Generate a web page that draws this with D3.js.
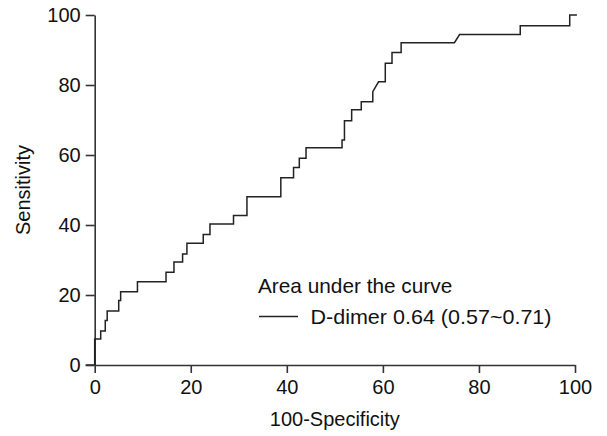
<!DOCTYPE html>
<html>
<head>
<meta charset="utf-8">
<script src="https://cdn.jsdelivr.net/npm/d3@7"></script>
<style>
  html, body { margin: 0; padding: 0; background: #fff; }
  svg { display: block; }
  text { font-family: "Liberation Sans", Arial, sans-serif; fill: #111; }
</style>
</head>
<body>
<svg id="chart" width="607" height="436"></svg>
<script>
// ROC curve vertices (100-Specificity, Sensitivity)
const specComplement = [0, 0, 1.25, 1.25, 2.2, 2.2, 2.6, 2.6, 5.0, 5.0, 5.4, 5.4, 8.9, 8.9, 14.85, 14.85,
  16.5, 16.5, 18.3, 18.3, 19.2, 19.2, 22.6, 22.6, 24.0, 24.0, 28.9, 28.9, 31.7, 31.7, 38.75, 38.75,
  41.4, 41.4, 42.6, 42.6, 44.0, 44.0, 51.5, 51.5, 52.0, 52.0, 53.5, 53.5, 55.5, 55.5, 57.9, 57.9,
  59.1, 60.5, 60.5, 61.9, 61.9, 63.8, 63.8, 74.9, 75.96, 88.6, 88.6, 98.9, 98.9, 100.4];
const sensitivity = [0, 7.4, 7.4, 9.7, 9.7, 12.7, 12.7, 15.4, 15.4, 18.4, 18.4, 20.9, 20.9, 23.8, 23.8, 26.5,
  26.5, 29.4, 29.4, 31.7, 31.7, 34.8, 34.8, 37.3, 37.3, 40.3, 40.3, 42.7, 42.7, 48.1, 48.1, 53.5,
  53.5, 56.4, 56.4, 59.1, 59.1, 62.1, 62.1, 64.3, 64.3, 69.8, 69.8, 72.9, 72.9, 75.2, 75.2, 78.1,
  80.9, 80.9, 86.2, 86.2, 89.3, 89.3, 92.1, 92.1, 94.4, 94.4, 96.9, 96.9, 100, 100];
const xTicks = [0, 20, 40, 60, 80, 100];
const yTicks = [0, 20, 40, 60, 80, 100];
const xTitle = "100-Specificity";
const yTitle = "Sensitivity";
const legendTitle = "Area under the curve";
const seriesLabel = "D-dimer 0.64 (0.57~0.71)";

const svg = d3.select("#chart");
const x = d3.scaleLinear().domain([0, 100]).range([94.7, 575]);
const y = d3.scaleLinear().domain([0, 100]).range([365, 15]);
const axisColor = "#333";
const fontSize = 20;

const gx = svg.append("g").attr("transform", `translate(0,${y(0)})`)
  .call(d3.axisBottom(x).tickValues(xTicks).tickSize(8).tickSizeOuter(0).tickPadding(7));
const gy = svg.append("g").attr("transform", `translate(${x(0)},0)`)
  .call(d3.axisLeft(y).tickValues(yTicks).tickSize(9).tickSizeOuter(0).tickPadding(5));
[gx, gy].forEach(g => {
  g.selectAll("path.domain").attr("stroke", axisColor).attr("stroke-width", 1.6);
  g.selectAll(".tick line").attr("stroke", axisColor).attr("stroke-width", 1.6);
  g.selectAll(".tick text").attr("font-size", fontSize).attr("font-family", "Liberation Sans, Arial, sans-serif").attr("fill", "#111");
});
svg.append("line").attr("x1", x(0) - 9).attr("x2", x(0)).attr("y1", y(0)).attr("y2", y(0))
  .attr("stroke", axisColor).attr("stroke-width", 1.6);

svg.append("text").attr("x", (x(0) + x(100)) / 2).attr("y", 426)
  .attr("text-anchor", "middle").attr("font-size", fontSize).text(xTitle);
svg.append("text").attr("transform", `translate(30,${(y(0) + y(100)) / 2}) rotate(-90)`)
  .attr("text-anchor", "middle").attr("font-size", fontSize).text(yTitle);

const pts = specComplement.map((v, i) => [v, sensitivity[i]]);
svg.append("path").datum(pts)
  .attr("d", d3.line().x(d => x(d[0])).y(d => y(d[1])))
  .attr("fill", "none").attr("stroke", "#222").attr("stroke-width", 1.5);

// legend
svg.append("text").attr("x", 258).attr("y", 293).attr("font-size", 20.8).text(legendTitle);
svg.append("line").attr("x1", 259).attr("x2", 298).attr("y1", 316.5).attr("y2", 316.5)
  .attr("stroke", "#222").attr("stroke-width", 1.3);
svg.append("text").attr("x", 310.5).attr("y", 323.5).attr("font-size", 20.8)
  .attr("textLength", 241).attr("lengthAdjust", "spacingAndGlyphs").text(seriesLabel);
</script>
</body>
</html>
